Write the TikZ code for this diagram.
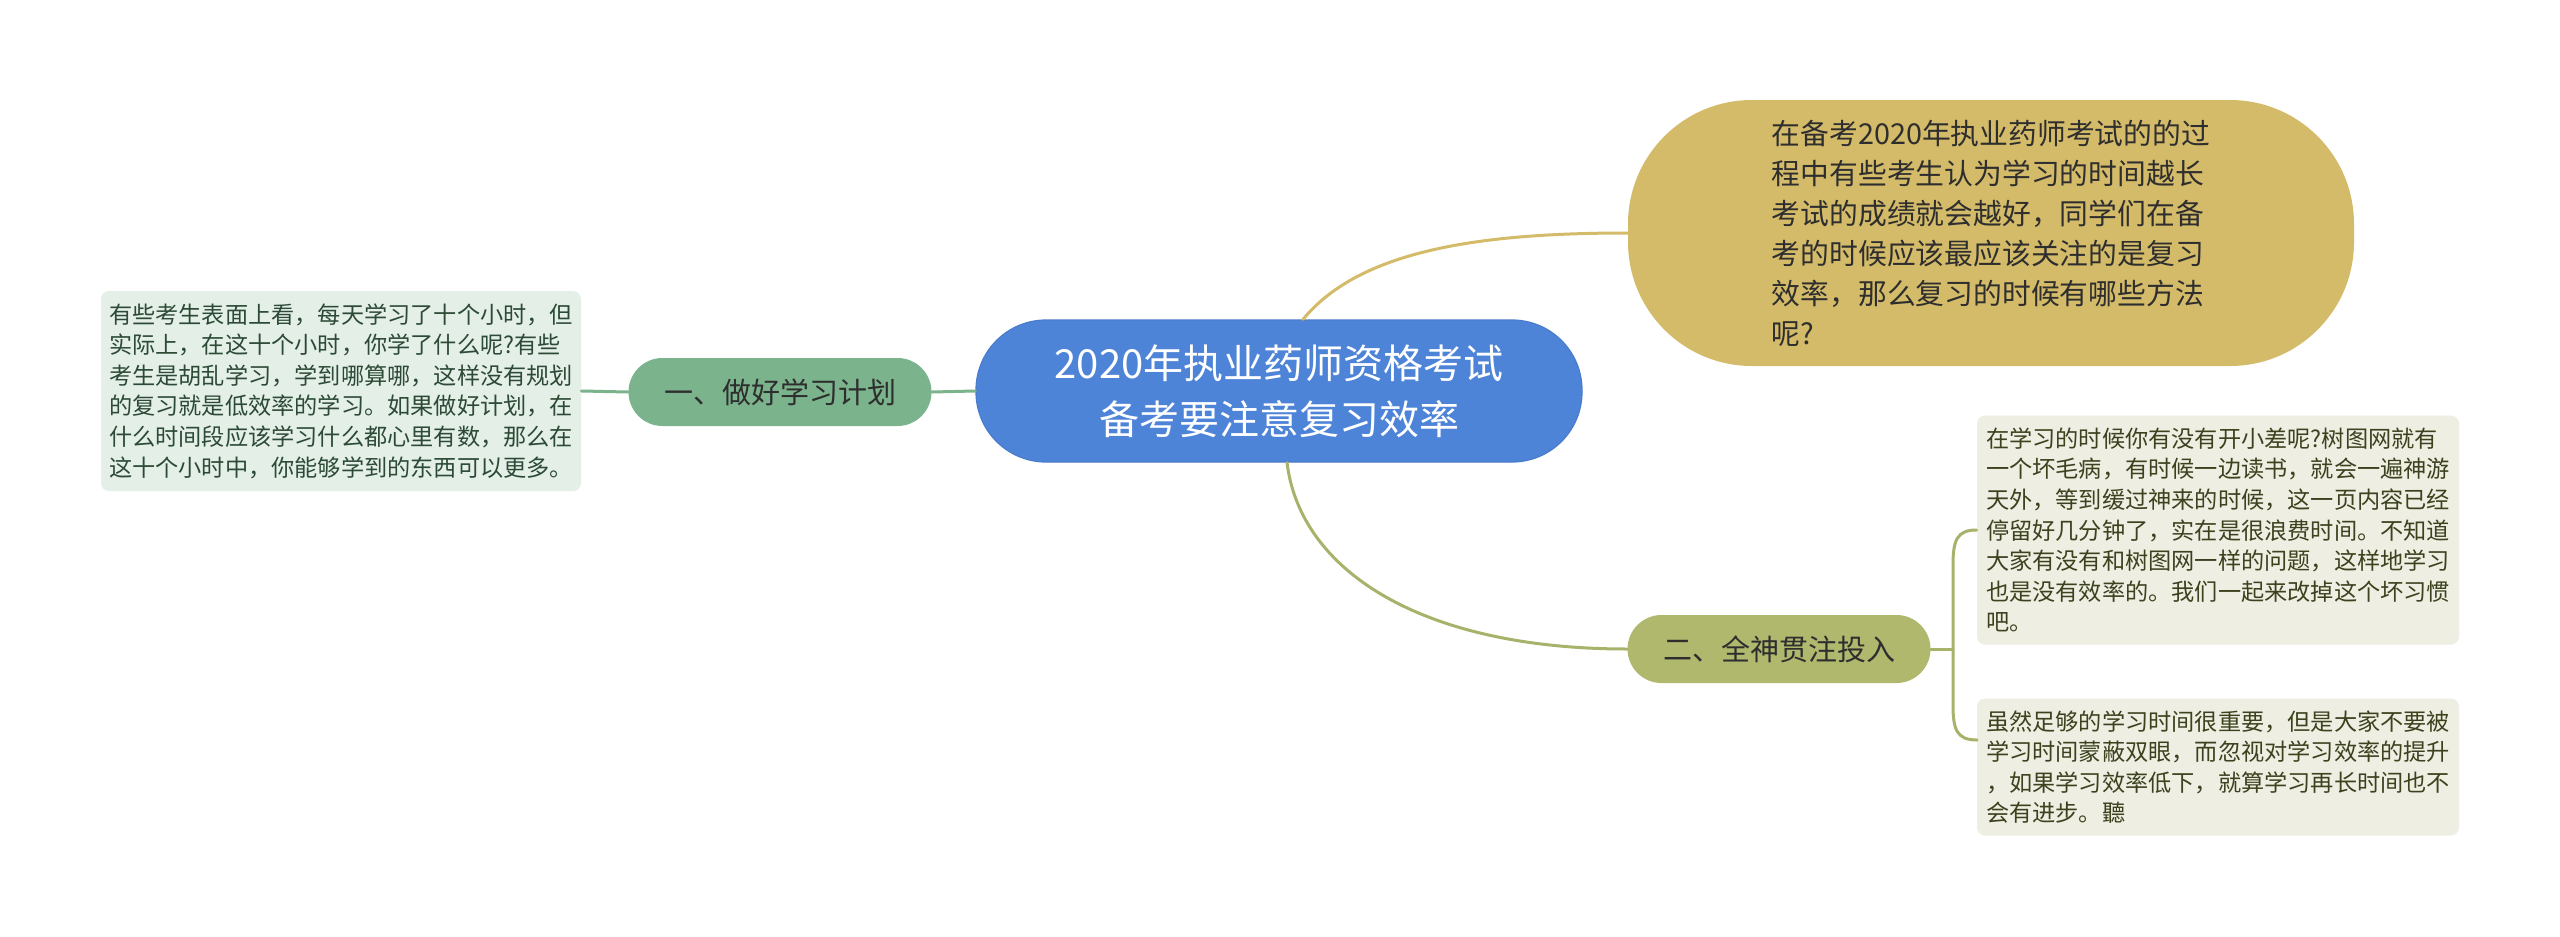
\documentclass[tikz,border=0pt]{standalone}
\usepackage{fontspec}
\setmainfont{Noto Sans CJK SC}
\definecolor{rootblue}{HTML}{4E84D8}
\definecolor{rootedge}{HTML}{4A7CCB}
\definecolor{gold}{HTML}{D4BB69}
\definecolor{olive}{HTML}{B0B86E}
\definecolor{oliveline}{HTML}{A9B26A}
\definecolor{green}{HTML}{7AB38C}
\definecolor{leafgreen}{HTML}{E4EFE8}
\definecolor{leafolive}{HTML}{EEEEE2}
\definecolor{txtgreen}{HTML}{2C4A35}
\definecolor{txtolive}{HTML}{3C421E}
\definecolor{txtdark}{HTML}{2E2E2E}
\begin{document}
\begin{tikzpicture}[x=0.5pt,y=-0.5pt,
  rootbox/.style={fill=rootblue, draw=rootedge, line width=0.6pt, rounded corners=35pt,
    minimum width=303pt, minimum height=71pt, inner sep=0pt, align=center, text=white,
    font=\fontsize{20pt}{28pt}\selectfont},
  topbox/.style={fill=gold, draw=none, rounded corners=62pt,
    minimum width=363pt, minimum height=133pt, inner sep=0pt, align=left, text=txtdark,
    font=\fontsize{14.4pt}{20pt}\selectfont},
  branchbox/.style={draw=none, rounded corners=17pt, minimum width=151.5pt, minimum height=34pt,
    inner sep=0pt, align=center, text=txtdark, font=\fontsize{14.5pt}{18pt}\selectfont},
  leafbox/.style={draw=none, rounded corners=4pt, minimum width=241pt, inner sep=0pt,
    align=left, font=\fontsize{11.6pt}{15.3pt}\selectfont},
  conn/.style={line width=1.5pt, line cap=round}
]
\useasboundingbox (0,0) rectangle (2560,937);
\fill[white] (0,0) rectangle (2560,937);

% nodes
\node[rootbox] (root) at (1279,391) {2020年执业药师资格考试\\备考要注意复习效率};
\node[topbox] (top) at (1991,233) {在备考2020年执业药师考试的的过\\程中有些考生认为学习的时间越长\\考试的成绩就会越好，同学们在备\\考的时候应该最应该关注的是复习\\效率，那么复习的时候有哪些方法\\呢?};
\node[branchbox, fill=green] (b1) at (780,392) {一、做好学习计划};
\node[branchbox, fill=olive] (b2) at (1779,649) {二、全神贯注投入};
\node[leafbox, fill=leafgreen, text=txtgreen, minimum width=240pt, minimum height=100pt] (leafL) at (341,391)
  {有些考生表面上看，每天学习了十个小时，但\\实际上，在这十个小时，你学了什么呢?有些\\考生是胡乱学习，学到哪算哪，这样没有规划\\的复习就是低效率的学习。如果做好计划，在\\什么时间段应该学习什么都心里有数，那么在\\这十个小时中，你能够学到的东西可以更多。};
\node[leafbox, fill=leafolive, text=txtolive, minimum height=114.5pt] (leafR1) at (2218,530)
  {在学习的时候你有没有开小差呢?树图网就有\\一个坏毛病，有时候一边读书，就会一遍神游\\天外，等到缓过神来的时候，这一页内容已经\\停留好几分钟了，实在是很浪费时间。不知道\\大家有没有和树图网一样的问题，这样地学习\\也是没有效率的。我们一起来改掉这个坏习惯\\吧。};
\node[leafbox, fill=leafolive, text=txtolive, minimum height=68.5pt] (leafR2) at (2218,767)
  {虽然足够的学习时间很重要，但是大家不要被\\学习时间蒙蔽双眼，而忽视对学习效率的提升\\，如果学习效率低下，就算学习再长时间也不\\会有进步。聽};

% connectors
\coordinate (bk) at (1953,649);
\coordinate (r2in) at (1977,740);
\draw[conn, green] (root.west) -- (b1.east);
\draw[conn, green] (b1.west) -- (leafL.east);
\draw[conn, gold] ([xshift=12pt]root.north) .. controls (1360,250) and (1480,233) .. (top.west);
\draw[conn, oliveline] ([xshift=4pt]root.south) .. controls (1300,570) and (1420,649) .. (b2.west);
\draw[conn, oliveline] (b2.east) -- (bk);
\draw[conn, oliveline] (leafR1.west) .. controls (1957,530) and (1953,540) .. (1953,565) -- (1953,705) .. controls (1953,730) and (1957,740) .. (r2in);
\end{tikzpicture}
\end{document}
